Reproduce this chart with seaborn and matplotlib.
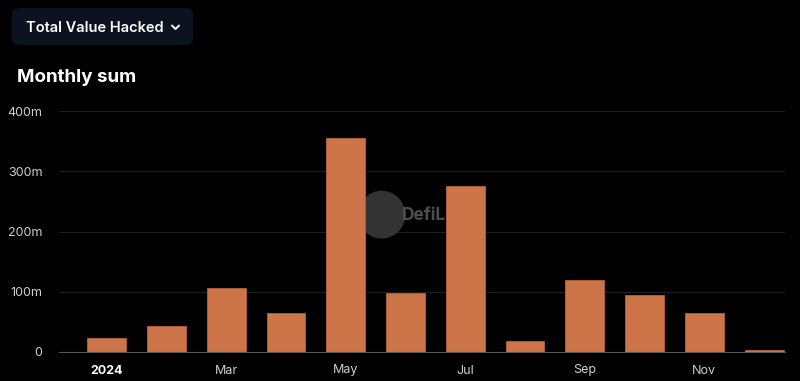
import matplotlib
matplotlib.use('Agg')
import matplotlib.pyplot as plt
import pandas as pd
import seaborn as sns
from matplotlib.patches import FancyBboxPatch, Ellipse
from matplotlib.lines import Line2D

# monthly hacked value in 2024 (millions USD)
months = ['Jan', 'Feb', 'Mar', 'Apr', 'May', 'Jun',
          'Jul', 'Aug', 'Sep', 'Oct', 'Nov', 'Dec']
hacked = [23, 43, 107, 65, 355, 98, 275, 18, 120, 95, 65, 4]
tick_labels = ['2024', 'Mar', 'May', 'Jul', 'Sep', 'Nov']
y_ticks = [0, 100, 200, 300, 400]
y_labels = ['0', '100m', '200m', '300m', '400m']

BG = '#000000'
BAR = '#cd7549'

sns.set_theme(style='dark')
plt.rcParams['font.family'] = ['Inter', 'DejaVu Sans']

df = pd.DataFrame({'month': months, 'value': hacked})

fig = plt.figure(figsize=(8, 3.81), dpi=100, facecolor=BG)
ax = fig.add_axes([59 / 800, 29 / 381, 726 / 800, 247 / 381])
ax.set_facecolor(BG)

# watermark behind the bars
ax.add_patch(Ellipse((4.6, 228), width=0.77, height=77,
                     color='#333333', zorder=1))
ax.text(4.93, 226, 'DefiLlama', color='#4d4d4d', fontsize=12.5,
        fontweight='bold', va='center', ha='left', zorder=1)

sns.barplot(data=df, x='month', y='value', order=months, color=BAR,
            saturation=1, width=0.65, edgecolor='#b3623b', linewidth=0.6,
            ax=ax, zorder=2)

ax.set_xlim(-0.8, 11.35)
ax.set_ylim(0, 410)
ax.set_xlabel('')
ax.set_ylabel('')

ax.set_yticks(y_ticks)
ax.set_yticklabels(y_labels)
ax.set_xticks(range(0, 12, 2))
ax.set_xticklabels(tick_labels)

ax.grid(axis='y', color='#1e1e1e', linewidth=0.8, zorder=0)
ax.grid(axis='x', visible=False)
ax.set_axisbelow(True)
for side in ['top', 'right', 'left']:
    ax.spines[side].set_visible(False)
ax.spines['bottom'].set_color('#555555')
ax.spines['bottom'].set_linewidth(0.8)

ax.tick_params(axis='y', length=0, colors='#d0d0d0', labelsize=9, pad=12)
ax.tick_params(axis='x', length=4, color='#888888', colors='#d0d0d0',
               labelsize=9, pad=5)
for lbl in ax.get_xticklabels():
    if lbl.get_text() == '2024':
        lbl.set_fontweight('bold')
        lbl.set_color('#ffffff')

# selector button and heading
fig.patches.append(FancyBboxPatch((12 / 800, (381 - 45) / 381),
                                  181 / 800, 37 / 381,
                                  boxstyle='round,pad=0,rounding_size=0.012',
                                  transform=fig.transFigure,
                                  facecolor='#0c1220', edgecolor='none'))
fig.text(26 / 800, 1 - 28 / 381, 'Total Value Hacked', color='#ffffff',
         fontsize=10.5, fontweight='semibold', va='center', ha='left')
fig.lines.append(Line2D([172 / 800, 175.5 / 800, 179 / 800],
                        [1 - 25.5 / 381, 1 - 29 / 381, 1 - 25.5 / 381],
                        transform=fig.transFigure, color='#ffffff',
                        linewidth=1.4))
fig.text(17 / 800, 1 - 77 / 381, 'Monthly sum', color='#ffffff',
         fontsize=13.5, fontweight='bold', va='center', ha='left')

fig.savefig('out.png', dpi=100, facecolor=BG)
